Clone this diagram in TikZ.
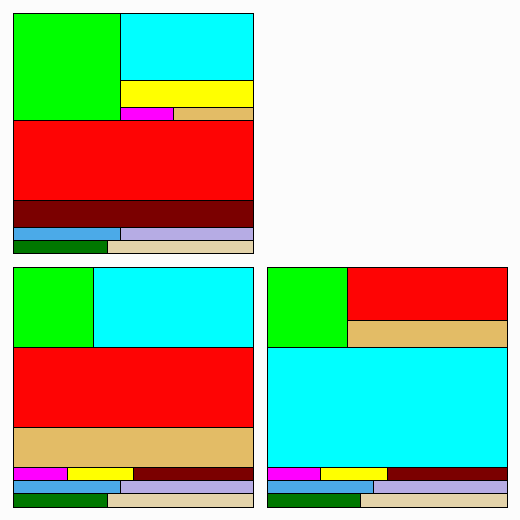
\documentclass[tikz,border=0pt]{standalone}
\definecolor{cgreen}{RGB}{0,255,0}
\definecolor{ccyan}{RGB}{0,255,255}
\definecolor{cyellow}{RGB}{255,255,0}
\definecolor{cmag}{RGB}{255,0,255}
\definecolor{ctan}{RGB}{227,188,102}
\definecolor{cred}{RGB}{254,4,4}
\definecolor{cdred}{RGB}{123,0,0}
\definecolor{cblue}{RGB}{75,170,232}
\definecolor{clav}{RGB}{182,172,228}
\definecolor{cdgreen}{RGB}{0,120,0}
\definecolor{cwheat}{RGB}{227,211,170}
\definecolor{cbg}{RGB}{252,252,252}
\begin{document}
\begin{tikzpicture}[x=1pt,y=-1pt,cell/.style={draw=black,line width=1pt}]
\fill[cbg] (0,0) rectangle (520,520);
\useasboundingbox (0,0) rectangle (520,520);
% Panel 1
\filldraw[cell,fill=cgreen] (13.3,13.3) rectangle (120.3,120.3);
\filldraw[cell,fill=ccyan] (120.3,13.3) rectangle (253.3,80.3);
\filldraw[cell,fill=cyellow] (120.3,80.3) rectangle (253.3,107.3);
\filldraw[cell,fill=cmag] (120.3,107.3) rectangle (173.3,120.3);
\filldraw[cell,fill=ctan] (173.3,107.3) rectangle (253.3,120.3);
\filldraw[cell,fill=cred] (13.3,120.3) rectangle (253.3,200.3);
\filldraw[cell,fill=cdred] (13.3,200.3) rectangle (253.3,227.3);
\filldraw[cell,fill=cblue] (13.3,227.3) rectangle (120.3,240.3);
\filldraw[cell,fill=clav] (120.3,227.3) rectangle (253.3,240.3);
\filldraw[cell,fill=cdgreen] (13.3,240.3) rectangle (107.3,253.3);
\filldraw[cell,fill=cwheat] (107.3,240.3) rectangle (253.3,253.3);
% Panel 2
\filldraw[cell,fill=cgreen] (13.3,267.3) rectangle (93.3,347.3);
\filldraw[cell,fill=ccyan] (93.3,267.3) rectangle (253.3,347.3);
\filldraw[cell,fill=cred] (13.3,347.3) rectangle (253.3,427.3);
\filldraw[cell,fill=ctan] (13.3,427.3) rectangle (253.3,467.3);
\filldraw[cell,fill=cmag] (13.3,467.3) rectangle (67.3,480.3);
\filldraw[cell,fill=cyellow] (67.3,467.3) rectangle (133.3,480.3);
\filldraw[cell,fill=cdred] (133.3,467.3) rectangle (253.3,480.3);
\filldraw[cell,fill=cblue] (13.3,480.3) rectangle (120.3,493.3);
\filldraw[cell,fill=clav] (120.3,480.3) rectangle (253.3,493.3);
\filldraw[cell,fill=cdgreen] (13.3,493.3) rectangle (107.3,507.3);
\filldraw[cell,fill=cwheat] (107.3,493.3) rectangle (253.3,507.3);
% Panel 3
\filldraw[cell,fill=cgreen] (267.3,267.3) rectangle (347.3,347.3);
\filldraw[cell,fill=cred] (347.3,267.3) rectangle (507.3,320.3);
\filldraw[cell,fill=ctan] (347.3,320.3) rectangle (507.3,347.3);
\filldraw[cell,fill=ccyan] (267.3,347.3) rectangle (507.3,467.3);
\filldraw[cell,fill=cmag] (267.3,467.3) rectangle (320.3,480.3);
\filldraw[cell,fill=cyellow] (320.3,467.3) rectangle (387.3,480.3);
\filldraw[cell,fill=cdred] (387.3,467.3) rectangle (507.3,480.3);
\filldraw[cell,fill=cblue] (267.3,480.3) rectangle (373.3,493.3);
\filldraw[cell,fill=clav] (373.3,480.3) rectangle (507.3,493.3);
\filldraw[cell,fill=cdgreen] (267.3,493.3) rectangle (360.3,507.3);
\filldraw[cell,fill=cwheat] (360.3,493.3) rectangle (507.3,507.3);
\end{tikzpicture}
\end{document}
